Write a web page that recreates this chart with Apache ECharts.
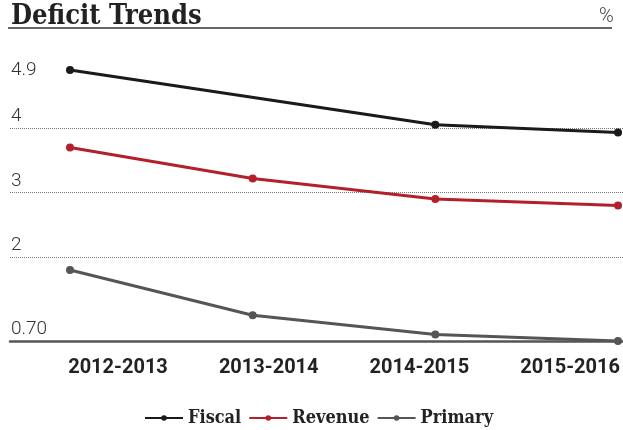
<!DOCTYPE html>
<html><head><meta charset="utf-8">
<script src="https://cdn.jsdelivr.net/npm/echarts@6/dist/echarts.min.js"></script>
<style>html,body{margin:0;padding:0;background:#fff}#c{width:623px;height:430px}</style>
</head><body><div id="c"></div>
<script>
const categories = ['2012-2013','2013-2014','2014-2015','2015-2016'];
const fiscal = [4.9, null, 4.05, 3.93];
const revenue = [3.7, 3.22, 2.9, 2.8];
const primary = [1.8, 1.1, 0.8, 0.7];
const yMin = 0.7, yMax = 4.9;
const yGridLabels = [0.7, 2, 3, 4];
const yTopLabel = [4.9];
const yGridLines = [2, 3, 4];

const slab = '"DejaVu Serif Condensed", "DejaVu Serif", serif';
const chart = echarts.init(document.getElementById('c'), null, {renderer:'canvas'});
const TOP = 70, BOTTOM = 89;
const hidden = {axisLine:{show:false}, axisTick:{show:false}, axisLabel:{show:false}, splitLine:{show:false}};
chart.setOption({
  animation: false,
  title: [
    {text:'Deficit Trends', left: 6, top: -2, textStyle:{fontFamily: slab, fontWeight:'bold', fontSize:27, color:'#222'}},
    {text:'%', left: 594, top: 2, textStyle:{fontFamily:'Roboto', fontWeight:300, fontSize:20, color:'#444'}}
  ],
  graphic: [{type:'line', shape:{x1:8, y1:28, x2:612, y2:28}, style:{stroke:'#333', lineWidth:1.5}}],
  legend: {
    top: 404, left: 139, itemWidth: 38, itemHeight: 7, itemGap: 7,
    lineStyle:{width:2},
    textStyle:{fontFamily: slab, fontWeight:'bold', fontSize:18, color:'#222'},
    data:['Fiscal','Revenue','Primary']
  },
  grid: [
    {left:10, right:0, top:TOP, bottom:BOTTOM},
    {left:70, right:5, top:TOP, bottom:BOTTOM},
    {left:118, right:52, top:TOP, bottom:BOTTOM}
  ],
  xAxis: [
    {gridIndex:0, type:'category', data:categories, boundaryGap:false, axisLine:{show:true, lineStyle:{color:'#555', width:2.5}}, axisTick:{show:false}, axisLabel:{show:false}, splitLine:{show:false}},
    Object.assign({gridIndex:1, type:'category', data:categories, boundaryGap:false}, hidden),
    {gridIndex:2, type:'category', data:categories, boundaryGap:false, axisLine:{show:false}, axisTick:{show:false}, splitLine:{show:false},
      axisLabel:{margin:17, fontFamily:'Roboto', fontWeight:'bold', fontSize:20, color:'#222'}}
  ],
  yAxis: [
    {gridIndex:0, type:'value', min:yMin, max:yMax, position:'left',
      axisLine:{show:false}, axisTick:{show:false, customValues:yGridLines},
      splitLine:{show:true, lineStyle:{color:'#777', type:[1,1], width:1}},
      axisLabel:{inside:true, margin:1, verticalAlign:'bottom', customValues:yGridLabels, padding:[0,0,2,0],
        fontFamily:'Roboto', fontWeight:300, fontSize:19, color:'#333',
        formatter:v => (Math.abs(v-0.7)<1e-9 ? '0.70' : String(v))}},
    {gridIndex:0, type:'value', min:yMin, max:yMax, position:'left',
      axisLine:{show:false}, axisTick:{show:false}, splitLine:{show:false},
      axisLabel:{inside:true, margin:1, verticalAlign:'middle', customValues:yTopLabel,
        fontFamily:'Roboto', fontWeight:300, fontSize:19, color:'#333'}},
    Object.assign({gridIndex:1, type:'value', min:yMin, max:yMax}, hidden),
    Object.assign({gridIndex:2, type:'value', min:yMin, max:yMax}, hidden)
  ],
  series: [
    {name:'Fiscal', type:'line', xAxisIndex:1, yAxisIndex:2, data:fiscal, connectNulls:true,
      symbol:'circle', symbolSize:8, color:'#1a1a1a', lineStyle:{width:3, color:'#1a1a1a'}},
    {name:'Revenue', type:'line', xAxisIndex:1, yAxisIndex:2, data:revenue,
      symbol:'circle', symbolSize:8, color:'#b3202c', lineStyle:{width:3, color:'#b3202c'}},
    {name:'Primary', type:'line', xAxisIndex:1, yAxisIndex:2, data:primary,
      symbol:'circle', symbolSize:8, color:'#555', lineStyle:{width:3, color:'#555'}}
  ]
});
</script></body></html>
